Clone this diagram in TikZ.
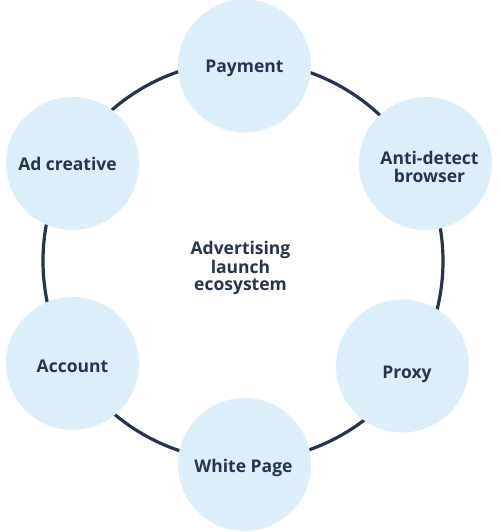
\documentclass[tikz,border=0pt]{standalone}
\usepackage{fontspec}
\setmainfont{Open Sans}
\usepackage{xcolor}
\usetikzlibrary{positioning}
\definecolor{RingNavy}{RGB}{38,52,79}
\definecolor{BubbleBlue}{RGB}{221,238,251}

\begin{document}
\begin{tikzpicture}[x=1pt,y=-1pt,bubble/.style={circle,fill=BubbleBlue,minimum size=133pt,inner sep=0pt},ring/.style={draw=RingNavy,line width=3.2pt},hub/.style={align=center,text=RingNavy,inner sep=0pt,font=\bfseries\fontsize{17.5}{17.4}\selectfont}]
\useasboundingbox (0,0) rectangle (499,532);
\node[hub](eco) at (240.5,268){Advertising\\launch\\ecosystem};
\coordinate (mid) at (243,261);
\draw[ring] (mid) circle (200pt);
% bubbles on the ring
\node[bubble](pay) at (244.5,66){};
\node[bubble](anti) at (425.5,163.5){};
\node[bubble](prox) at (402.5,366){};
\node[bubble](white) at (244.5,464.5){};
\node[bubble](acct) at (72.5,363.5){};
\node[bubble](adc) at (72.5,163.5){};
% their texts
\node[hub] at ([yshift=-2.5pt]pay){Payment};
\node[hub] at ([xshift=4pt,yshift=-3.5pt]anti){Anti-detect\\browser};
\node[hub] at ([xshift=4.5pt,yshift=-8.5pt]prox){Proxy};
\node[hub] at ([xshift=-1pt,yshift=-3pt]white){White Page};
\node[hub] at ([yshift=-3pt]acct){Account};
\node[hub] at ([xshift=-5pt]adc){Ad creative};
\end{tikzpicture}
\end{document}
